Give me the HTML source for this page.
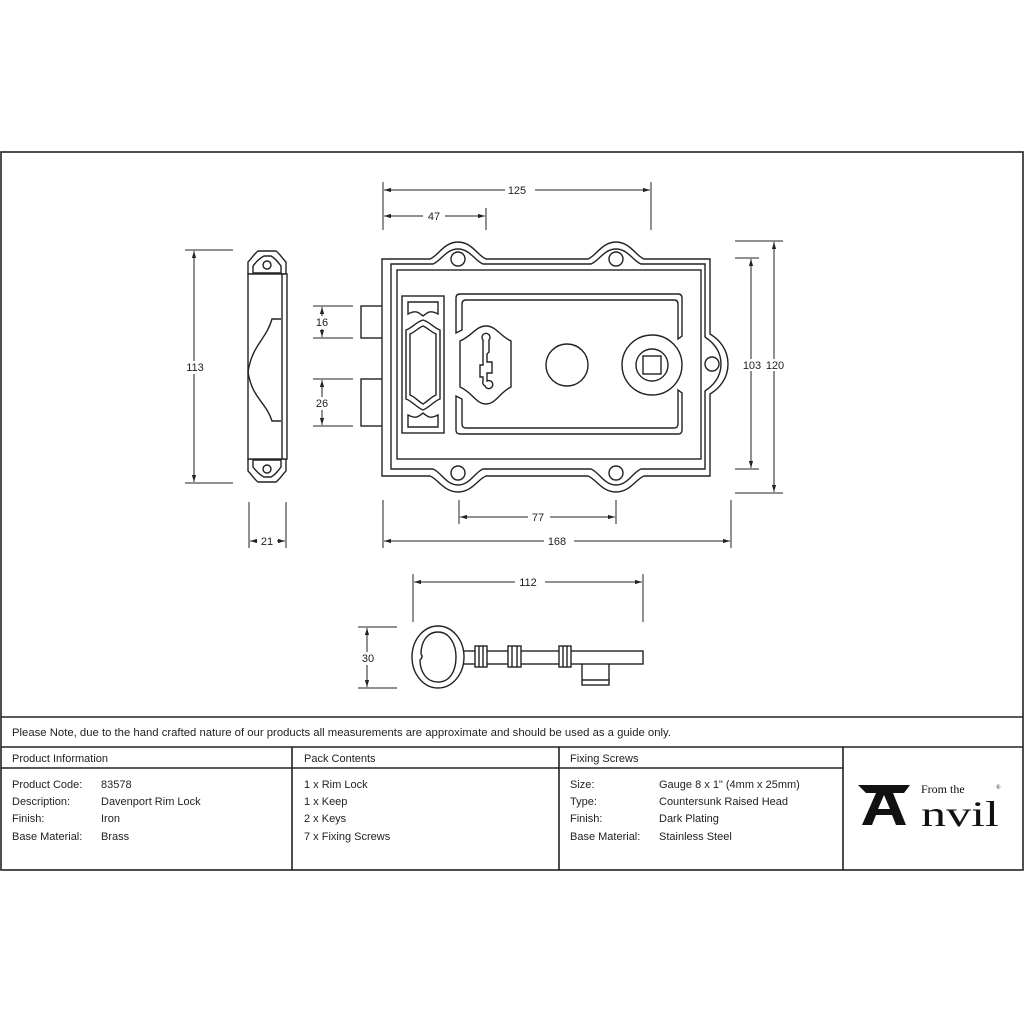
<!DOCTYPE html>
<html><head><meta charset="utf-8"><style>
html,body{margin:0;padding:0;background:#fff;}
svg{display:block;}
text{font-family:"Liberation Sans",sans-serif;fill:#222;}
</style></head><body>
<svg width="1024" height="1024" viewBox="0 0 1024 1024" xmlns="http://www.w3.org/2000/svg">
<defs>
<marker id="a" viewBox="0 0 10 10" refX="10" refY="5" markerWidth="7" markerHeight="7" orient="auto-start-reverse"><path d="M0,2 L10,5 L0,8 z" fill="#222"/></marker>
</defs>
<g fill="none" stroke="#222" stroke-width="1.6">
<rect x="1" y="152" width="1022" height="718"/>
<line x1="1" y1="717" x2="1023" y2="717"/>
<line x1="1" y1="747" x2="1023" y2="747"/>
<line x1="1" y1="768" x2="843" y2="768"/>
<line x1="292" y1="747" x2="292" y2="870"/>
<line x1="559" y1="747" x2="559" y2="870"/>
<line x1="843" y1="747" x2="843" y2="870"/>
</g>

<g stroke="#222" stroke-width="1" fill="none">
<line x1="383" y1="182" x2="383" y2="230"/><line x1="651" y1="182" x2="651" y2="230"/>
<line x1="486" y1="208" x2="486" y2="230"/>
<line x1="384" y1="190" x2="650" y2="190" marker-start="url(#a)" marker-end="url(#a)"/>
<line x1="384" y1="216" x2="485" y2="216" marker-start="url(#a)" marker-end="url(#a)"/>
<line x1="735" y1="241" x2="783" y2="241"/><line x1="735" y1="493" x2="783" y2="493"/>
<line x1="735" y1="258" x2="759" y2="258"/><line x1="735" y1="469" x2="759" y2="469"/>
<line x1="751" y1="259" x2="751" y2="468" marker-start="url(#a)" marker-end="url(#a)"/>
<line x1="774" y1="242" x2="774" y2="492" marker-start="url(#a)" marker-end="url(#a)"/>
<line x1="383" y1="500" x2="383" y2="548"/><line x1="731" y1="500" x2="731" y2="548"/>
<line x1="459" y1="500" x2="459" y2="524"/><line x1="616" y1="500" x2="616" y2="524"/>
<line x1="460" y1="517" x2="615" y2="517" marker-start="url(#a)" marker-end="url(#a)"/>
<line x1="384" y1="541" x2="730" y2="541" marker-start="url(#a)" marker-end="url(#a)"/>
<line x1="185" y1="250" x2="233" y2="250"/><line x1="185" y1="483" x2="233" y2="483"/>
<line x1="194" y1="251" x2="194" y2="482" marker-start="url(#a)" marker-end="url(#a)"/>
<line x1="313" y1="306" x2="353" y2="306"/><line x1="313" y1="338" x2="353" y2="338"/>
<line x1="322" y1="307" x2="322" y2="337" marker-start="url(#a)" marker-end="url(#a)"/>
<line x1="313" y1="379" x2="353" y2="379"/><line x1="313" y1="426" x2="353" y2="426"/>
<line x1="322" y1="380" x2="322" y2="425" marker-start="url(#a)" marker-end="url(#a)"/>
<line x1="249" y1="502" x2="249" y2="548"/><line x1="286" y1="502" x2="286" y2="548"/>
<line x1="250" y1="541" x2="285" y2="541" marker-start="url(#a)" marker-end="url(#a)"/>
<line x1="413" y1="574" x2="413" y2="622"/><line x1="643" y1="574" x2="643" y2="622"/>
<line x1="414" y1="582" x2="642" y2="582" marker-start="url(#a)" marker-end="url(#a)"/>
<line x1="358" y1="627" x2="397" y2="627"/><line x1="358" y1="688" x2="397" y2="688"/>
<line x1="367" y1="628" x2="367" y2="687" marker-start="url(#a)" marker-end="url(#a)"/>
</g>
<g font-size="11" text-anchor="middle">
<rect x="505" y="184" width="30" height="12" fill="#fff"/><text x="517" y="194">125</text>
<rect x="423" y="210" width="22" height="12" fill="#fff"/><text x="434" y="220">47</text>
<rect x="741" y="359" width="44" height="12" fill="#fff"/>
<text x="752" y="369">103</text><text x="775" y="369">120</text>
<rect x="528" y="511" width="22" height="12" fill="#fff"/><text x="538" y="521">77</text>
<rect x="544" y="535" width="30" height="12" fill="#fff"/><text x="557" y="545">168</text>
<rect x="184" y="361" width="22" height="13" fill="#fff"/><text x="195" y="371">113</text>
<rect x="314" y="316" width="16" height="13" fill="#fff"/><text x="322" y="326">16</text>
<rect x="314" y="397" width="16" height="13" fill="#fff"/><text x="322" y="407">26</text>
<rect x="257" y="535" width="20" height="12" fill="#fff"/><text x="267" y="545">21</text>
<rect x="515" y="576" width="30" height="12" fill="#fff"/><text x="528" y="586">112</text>
<rect x="359" y="652" width="18" height="13" fill="#fff"/><text x="368" y="662">30</text>
</g>

<g fill="#fff" stroke="#222" stroke-width="1.4">
<rect x="361" y="306" width="22" height="32"/>
<rect x="361" y="379" width="22" height="47"/>
<path d="M382,259 H430 C438,256 444,242 458,242 C472,242 478,256 486,259 H588 C596,256 602,242 616,242 C630,242 636,256 644,259 H710 V334 C720,340 728,350 728,364 C728,378 720,388 710,394 V476 H644 C636,479 630,492 616,492 C602,492 596,479 588,476 H486 C478,479 472,492 458,492 C444,492 438,479 430,476 H382 Z"/>
<path d="M391,264 H433 C441,261 446,249 458,249 C470,249 475,261 483,264 H591 C599,261 604,249 616,249 C628,249 633,261 641,264 H705 V337 C714,343 721,352 721,364 C721,376 714,385 705,391 V469 H641 C633,472 628,485 616,485 C604,485 599,472 591,469 H483 C475,472 470,485 458,485 C446,485 441,472 433,469 H391 Z"/>
<rect x="397" y="270" width="304" height="189"/>
<circle cx="458" cy="259" r="7"/><circle cx="616" cy="259" r="7"/>
<circle cx="458" cy="473" r="7"/><circle cx="616" cy="473" r="7"/>
<circle cx="712" cy="364" r="7"/>
<rect x="402" y="296" width="42" height="137"/>
<path d="M408,302 H438 L438,314 C430,310 428,312 423,316 C418,312 416,310 408,314 Z"/>
<path d="M408,427 H438 L438,415 C430,419 428,417 423,413 C418,417 416,419 408,415 Z"/>
<path d="M423,320 C430,322 434,328 440,330 V399 C434,401 430,407 423,410 C416,407 412,401 406,399 V330 C412,328 416,322 423,320 Z"/>
<path d="M423,326 C428,328 431,332 436,334 V395 C431,397 428,401 423,404 C418,401 415,397 410,395 V334 C415,332 418,328 423,326 Z"/>
<path d="M456,298 Q456,294 460,294 H678 Q682,294 682,298 V336 L678,339 V304 Q678,300 674,300 H466 Q462,300 462,304 V330 L456,333 Z"/>
<path d="M456,430 Q456,434 460,434 H678 Q682,434 682,430 V393 L678,390 V424 Q678,428 674,428 H466 Q462,428 462,424 V399 L456,396 Z"/>
<path d="M486,326 C496,326 500,336 511,341 V387 C500,392 496,404 486,404 C476,404 472,392 460,387 V341 C472,336 476,326 486,326 Z"/>
<path d="M483,340 A4,4 0 1 1 489,340 V352 L487,354 V362 H492 V373 H487 V381 A4,4 0 1 1 485,386 A4,4 0 0 1 483,381 V377 H480 V365 H483 Z"/>
<circle cx="567" cy="365" r="21"/>
<circle cx="652" cy="365" r="30"/>
<circle cx="652" cy="365" r="16"/>
<rect x="643" y="356" width="18" height="18"/>
</g>

<g fill="#fff" stroke="#222" stroke-width="1.4">
<path d="M248,274 V262 C252,258 254,254 258,251 H276 C280,254 282,258 286,262 V274 Z"/>
<path d="M248,459 V471 C252,475 254,479 258,482 H276 C280,479 282,475 286,471 V459 Z"/>
<path d="M253,273 V266 C256,262 260,258 264,256 H271 C275,258 278,262 281,266 V273 Z"/>
<path d="M253,460 V467 C256,471 260,475 264,477 H271 C275,475 278,471 281,467 V460 Z"/>
<circle cx="267" cy="265" r="4"/><circle cx="267" cy="469" r="4"/>
<rect x="248" y="274" width="39" height="185"/>
<line x1="282" y1="274" x2="282" y2="459"/>
<path d="M281,319 H272 C266,340 252,345 248,372 C252,398 266,402 272,421 H281" fill="none"/>
</g>

<g fill="#fff" stroke="#222" stroke-width="1.4">
<rect x="582" y="660" width="27" height="25"/>
<line x1="582" y1="680" x2="609" y2="680"/>
<rect x="455" y="651" width="188" height="13"/>
<ellipse cx="438" cy="657" rx="26" ry="31"/>
<path d="M438,632 C450,632 456,645 456,657 C456,671 450,682 438,682 C426,682 420,671 420,660 C422,658 423,656 421,654 C421,642 427,632 438,632 Z"/>
<rect x="475" y="646" width="12" height="21"/><line x1="479" y1="646" x2="479" y2="667"/><line x1="483" y1="646" x2="483" y2="667"/>
<rect x="508" y="646" width="13" height="21"/><line x1="512" y1="646" x2="512" y2="667"/><line x1="517" y1="646" x2="517" y2="667"/>
<rect x="559" y="646" width="12" height="21"/><line x1="563" y1="646" x2="563" y2="667"/><line x1="567" y1="646" x2="567" y2="667"/>
</g>

<g font-size="11">
<text x="12" y="736" textLength="659" lengthAdjust="spacingAndGlyphs">Please Note, due to the hand crafted nature of our products all measurements are approximate and should be used as a guide only.</text>
<text x="12" y="762">Product Information</text>
<text x="304" y="762">Pack Contents</text>
<text x="570" y="762">Fixing Screws</text>
<text x="12" y="788">Product Code:</text><text x="101" y="788">83578</text>
<text x="12" y="805">Description:</text><text x="101" y="805">Davenport Rim Lock</text>
<text x="12" y="822">Finish:</text><text x="101" y="822">Iron</text>
<text x="12" y="840">Base Material:</text><text x="101" y="840">Brass</text>
<text x="304" y="788">1 x Rim Lock</text>
<text x="304" y="805">1 x Keep</text>
<text x="304" y="822">2 x Keys</text>
<text x="304" y="840">7 x Fixing Screws</text>
<text x="570" y="788">Size:</text><text x="659" y="788">Gauge 8 x 1" (4mm x 25mm)</text>
<text x="570" y="805">Type:</text><text x="659" y="805">Countersunk Raised Head</text>
<text x="570" y="822">Finish:</text><text x="659" y="822">Dark Plating</text>
<text x="570" y="840">Base Material:</text><text x="659" y="840">Stainless Steel</text>
</g>

<g fill="#111">
<path d="M858,785 H910 L904,793 H893 L906,825 H896 L892,815 H876 L872,825 H862 L876,793 H866 Z"/>
<path d="M878,809 H890 L884,795 Z" fill="#fff"/>
</g>
<text x="921" y="826" font-size="36" style="font-family:'Liberation Serif',serif;fill:#111" textLength="78" lengthAdjust="spacingAndGlyphs">nvil</text>
<text x="921" y="793" style="font-family:'Liberation Serif',serif;fill:#111" font-size="12">From the</text>
<text x="996" y="789" style="font-family:'Liberation Serif',serif;fill:#111" font-size="6">®</text>
</svg>
</body></html>
